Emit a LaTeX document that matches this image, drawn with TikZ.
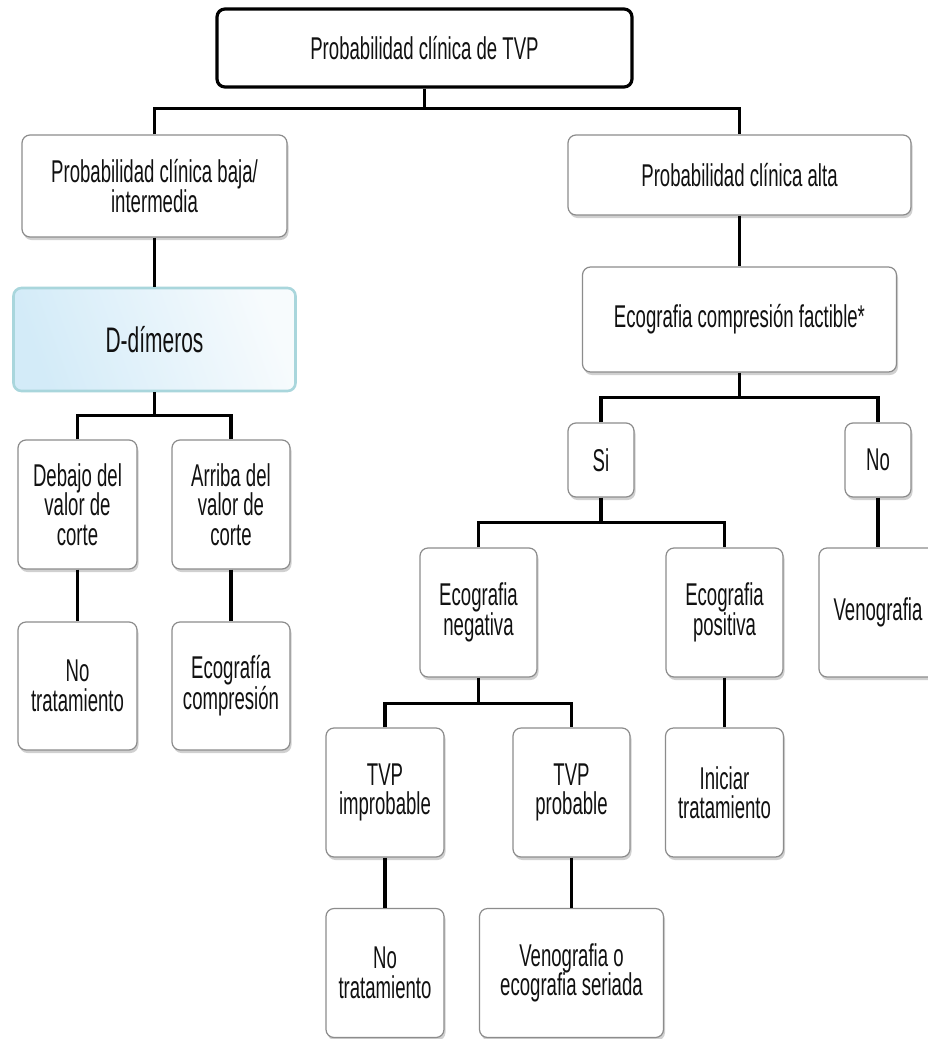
\documentclass[tikz,border=0pt]{standalone}
\usepackage{fontspec}
\setmainfont{Liberation Sans}[FakeStretch=0.59]
\usetikzlibrary{shadows}
\definecolor{boxline}{HTML}{8C8C8C}
\definecolor{ddline}{HTML}{A9D6DC}
\definecolor{ddA}{HTML}{D3EBF8}
\definecolor{ddB}{HTML}{F7FBFD}
\definecolor{txt}{HTML}{111111}
\tikzset{
  box/.style={draw=boxline, line width=1.2pt, fill=white, rounded corners=8pt,
    align=center, text=txt, font=\fontsize{31.5}{29.5}\selectfont, inner sep=2pt,
    drop shadow={shadow xshift=1.5pt, shadow yshift=-3pt, opacity=0.3, fill=black!60}},
  topbox/.style={draw=black, line width=3.2pt, fill=white, rounded corners=8pt,
    align=center, text=txt, font=\fontsize{31.5}{29.5}\selectfont, inner sep=2pt},
  ddbox/.style={draw=ddline, line width=2.6pt, rounded corners=8pt, shading=axis,
    left color=ddA, right color=ddB, shading angle=110,
    align=center, text=txt, font=\fontsize{35.5}{34}\selectfont, inner sep=2pt},
  conn/.style={draw=black, line width=3.2pt}
}
\begin{document}
\begin{tikzpicture}[x=1pt,y=-1pt]
\useasboundingbox (0,0) rectangle (928,1039);
\fill[white] (0,0) rectangle (928,1039);
\begin{scope}
\clip (0,0) rectangle (928,1039);
% nodes
\node[topbox, minimum width=415pt, minimum height=78pt] (top) at (424.5,48) {Probabilidad clínica de TVP};
\node[box, minimum width=265pt, minimum height=102pt] (baja) at (154.5,186) {Probabilidad clínica baja/\\intermedia};
\node[box, minimum width=343pt, minimum height=80pt] (alta) at (739.5,175) {Probabilidad clínica alta};
\node[ddbox, minimum width=282pt, minimum height=103pt] (ddim) at (154.5,339.5) {D-dímeros};
\node[box, minimum width=314pt, minimum height=105pt] (fact) at (739.5,319.5) {Ecografia compresión factible*};
\node[box, minimum width=119pt, minimum height=129pt] (debajo) at (77.5,504.5) {Debajo del\\valor de\\corte};
\node[box, minimum width=118pt, minimum height=129pt] (arriba) at (231,504.5) {Arriba del\\valor de\\corte};
\node[box, minimum width=119pt, minimum height=128pt] (notratA) at (77.5,686) {No\\tratamiento};
\node[box, minimum width=118pt, minimum height=128pt] (ecocomp) at (231,686) {Ecografía\\compresión};
\node[box, minimum width=66pt, minimum height=74pt] (si) at (601,460) {Si};
\node[box, minimum width=66pt, minimum height=74pt] (no) at (878,460) {No};
\node[box, minimum width=117pt, minimum height=129pt] (neg) at (478.5,612.5) {Ecografia\\negativa};
\node[box, minimum width=117pt, minimum height=129pt] (pos) at (724.5,612.5) {Ecografia\\positiva};
\node[box, minimum width=118pt, minimum height=129pt] (veno) at (878,612.5) {Venografia};
\node[box, minimum width=118pt, minimum height=129pt] (improb) at (385,792.5) {TVP\\improbable};
\node[box, minimum width=117pt, minimum height=129pt] (prob) at (571.5,792.5) {TVP\\probable};
\node[box, minimum width=118pt, minimum height=129pt] (inic) at (724.5,792.5) {Iniciar\\tratamiento};
\node[box, minimum width=118pt, minimum height=129pt] (notratB) at (385,973) {No\\tratamiento};
\node[box, minimum width=184pt, minimum height=129pt] (venoeco) at (571.5,973) {Venografia o\\ecografia seriada};
\end{scope}
% connectors
\draw[conn] (top.south) -- ++(0,20) coordinate (j1);
\draw[conn] (baja.north) |- (j1) -| (alta.north);
\draw[conn] (baja.south) -- (ddim.north);
\draw[conn] (ddim.south) -- ++(0,23) coordinate (j2);
\draw[conn] (debajo.north) |- (j2) -| (arriba.north);
\draw[conn] (debajo.south) -- (notratA.north);
\draw[conn] (arriba.south) -- (ecocomp.north);
\draw[conn] (alta.south) -- (fact.north);
\draw[conn] (fact.south) -- ++(0,25) coordinate (j3);
\draw[conn] (si.north) |- (j3) -| (no.north);
\draw[conn] (no.south) -- (veno.north);
\draw[conn] (si.south) -- ++(0,25) coordinate (j4);
\draw[conn] (neg.north) |- (j4) -| (pos.north);
\draw[conn] (pos.south) -- (inic.north);
\draw[conn] (neg.south) -- ++(0,26) coordinate (j5);
\draw[conn] (improb.north) |- (j5) -| (prob.north);
\draw[conn] (improb.south) -- (notratB.north);
\draw[conn] (prob.south) -- (venoeco.north);
\end{tikzpicture}
\end{document}
